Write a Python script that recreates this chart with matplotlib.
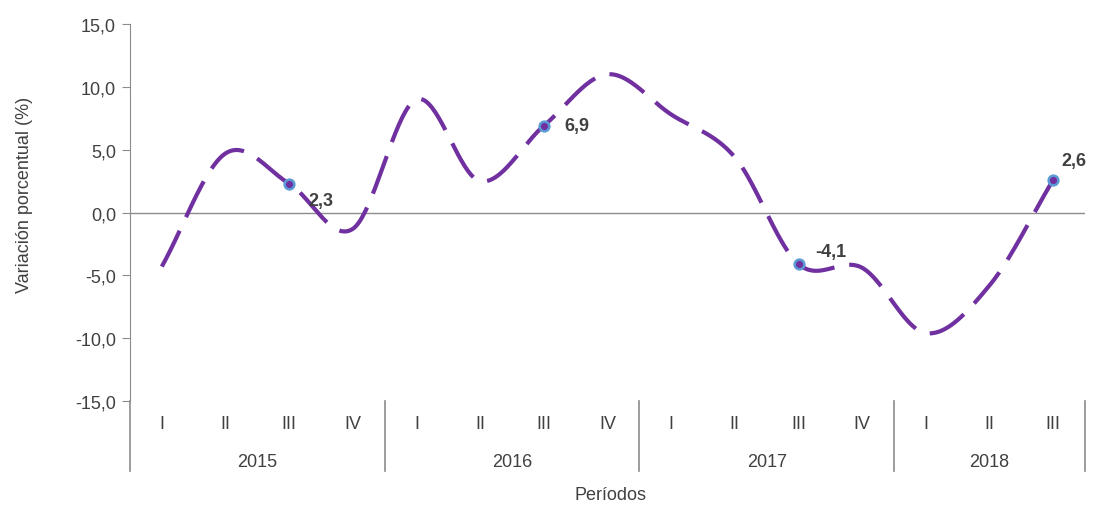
import numpy as np
import matplotlib.pyplot as plt

plt.rcParams['font.family'] = ['Liberation Sans', 'DejaVu Sans']

# data
quarters = ['I', 'II', 'III', 'IV', 'I', 'II', 'III', 'IV',
            'I', 'II', 'III', 'IV', 'I', 'II', 'III']
years = ['2015', '2016', '2017', '2018']
values = [-4.3, 4.7, 2.3, -1.3, 9.0, 2.5, 6.9, 11.0,
          7.8, 4.4, -4.1, -4.4, -9.6, -5.8, 2.6]
labeled = [2, 6, 10, 14]
label_text = ['2,3', '6,9', '-4,1', '2,6']
label_offset = [(14, -12), (15, 0), (12, 9), (6, 14)]

purple = '#7030A0'
grey = '#8C8C8C'


def smooth(y, n=40):
    # Excel-style smoothed line (Catmull-Rom through the points)
    y = np.asarray(y, float)
    x = np.arange(len(y), dtype=float)
    px = np.concatenate([[2 * x[0] - x[1]], x, [2 * x[-1] - x[-2]]])
    py = np.concatenate([[2 * y[0] - y[1]], y, [2 * y[-1] - y[-2]]])
    xs, ys = [], []
    t = np.linspace(0, 1, n, endpoint=False)
    for i in range(1, len(px) - 2):
        for arr, out in ((px, xs), (py, ys)):
            p0, p1, p2, p3 = arr[i - 1], arr[i], arr[i + 1], arr[i + 2]
            out.extend(0.5 * ((2 * p1) + (-p0 + p2) * t
                              + (2 * p0 - 5 * p1 + 4 * p2 - p3) * t ** 2
                              + (-p0 + 3 * p1 - 3 * p2 + p3) * t ** 3))
    xs.append(x[-1])
    ys.append(y[-1])
    return np.array(xs), np.array(ys)


fig = plt.figure(figsize=(10.93, 5.06), dpi=100)
ax = fig.add_axes([0.1189, 0.2055, 0.8738, 0.7451])

sx, sy = smooth(values)
line, = ax.plot(sx, sy, color=purple, lw=3.0, solid_capstyle='butt',
                dash_capstyle='butt', zorder=3)
line.set_dashes((9.6, 3.6))

xi = np.arange(len(values))
ax.plot(xi[labeled], np.array(values)[labeled], 'o', ms=7, mfc=purple,
        mec='#5B9BD5', mew=1.8, zorder=4)
for k, i in enumerate(labeled):
    ax.annotate(label_text[k], (i, values[i]), xytext=label_offset[k],
                textcoords='offset points', fontsize=13, fontweight='bold',
                color='#404040', va='center', ha='left')

ax.set_xlim(-0.5, len(values) - 0.5)
ax.set_ylim(-15, 15)
ax.set_yticks(np.arange(-15, 16, 5))
ax.set_yticklabels([('%.1f' % v).replace('.', ',') for v in np.arange(-15, 16, 5)],
                   fontsize=13, color='#404040')
ax.tick_params(axis='y', direction='out', length=6, color=grey, pad=4)
ax.set_xticks([])

for s in ['top', 'right', 'bottom']:
    ax.spines[s].set_visible(False)
ax.spines['left'].set_color(grey)
ax.spines['left'].set_bounds(-15, 15)
ax.axhline(0, color=grey, lw=1, zorder=1)

# category axis below the plot
trans = ax.get_xaxis_transform()
for b in [-0.5, 3.5, 7.5, 11.5, 14.5]:
    ax.plot([b, b], [0, -0.185], transform=trans, color=grey, lw=1.2,
            clip_on=False)
for i, q in enumerate(quarters):
    ax.text(i, -0.06, q, transform=trans, ha='center', va='center',
            fontsize=13, color='#404040')
year_centers = [1.5, 5.5, 9.5, 13.0]
for c, yr in zip(year_centers, years):
    ax.text(c, -0.16, yr, transform=trans, ha='center', va='center',
            fontsize=13, color='#404040')

fig.text(0.559, 0.02, 'Períodos', ha='center', va='center', fontsize=13,
         color='#404040')
fig.text(0.022, 0.615, 'Variación porcentual (%)', rotation=90, ha='center',
         va='center', fontsize=13, color='#404040')

fig.savefig('out.png', dpi=100)
